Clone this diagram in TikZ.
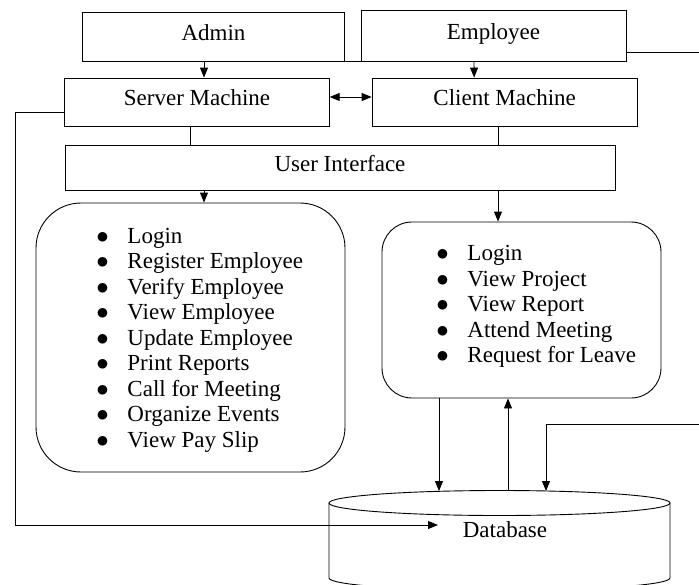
\documentclass[tikz,border=0pt]{standalone}
\usepackage{fontspec}
\setmainfont{Liberation Serif}
\usepackage{tikz}
\usetikzlibrary{
        arrows.meta,
        positioning,
        shapes
    }
\tikzset{>={Triangle[length=10pt,width=8pt]},node distance=2cm}
\tikzset{block/.style={draw,minimum height=48pt,text height=15pt,text depth=8pt,inner sep=0pt}}
\tikzset{panel/.style={draw,inner sep=0pt}}
\tikzset{tasks/.style={align=left,inner sep=0pt,anchor=west}}
\newcommand{\bul}[1]{\makebox[31pt][l]{$\bullet$}#1}

\begin{document}
\begin{tikzpicture}[x=1pt,y=-1pt,line width=0.9pt,font=\fontsize{23}{25.5}\selectfont]
                \useasboundingbox (0,0) rectangle (699,584);
                \node[block,minimum width=262pt,minimum height=49pt] (admin) at (213.5,36.5) {Admin};
                \node[block,minimum width=265pt,minimum height=51pt] (emp) at (493.5,35.5) {Employee};
                \node[block,minimum width=264.5pt] (server) at (197,102) {Server Machine};
                \node[block,minimum width=265pt] (client) [right=42pt of server] {Client Machine};
                \node[block,minimum width=550pt,minimum height=45pt] (ui) at (340,167.5) {User Interface};
                \node[panel,minimum width=309pt,minimum height=269pt,rounded corners=45pt] (admtask) at (190.5,337.5) {};
                \node[panel,minimum width=279pt,minimum height=176pt,rounded corners=30pt] (emptask) at (521.5,310) {};
                \node[tasks] (admlist) at (96,340) {\bul{Login}\\\bul{Register Employee}\\\bul{Verify Employee}\\\bul{View Employee}\\\bul{Update Employee}\\\bul{Print Reports}\\\bul{Call for Meeting}\\\bul{Organize Events}\\\bul{View Pay Slip}};
                \node[tasks] (emplist) at (436,306.5) {\bul{Login}\\\bul{View Project}\\\bul{View Report}\\\bul{Attend Meeting}\\\bul{Request for Leave}};
                % database drum
                \draw (499.5,503) ellipse [x radius=170.5pt, y radius=12.5pt];
                \draw (329,503) -- (329,578) arc[start angle=180, end angle=360, x radius=170.5pt, y radius=12.5pt] -- (670,503);
                \node (db) at (505,530) {Database};
                \coordinate (dbt1) at (439,491);
                \coordinate (dbt2) at (508,490.5);
                \coordinate (dbt3) at (546,491);
                \coordinate (dbin) at (438,525);
                \coordinate (east1) at (699,52);
                \coordinate (east2) at (699,424);
                \coordinate (westbend) at (15,112);
                \path[->]
                    ([xshift=-9.5]admin.south) edge ([xshift=7]server.north)
                    ([xshift=-19.5]emp.south) edge ([xshift=-30.5]client.north)
                    ([yshift=5]server.east) edge[<->] ([yshift=5]client.west)
                    ([xshift=-136]ui.south) edge ([xshift=13.5]admtask.north)
                    ([xshift=158]ui.south) edge ([xshift=-23.5]emptask.north)
                    ([xshift=-82.5]emptask.south) edge (dbt1)
                    (dbt2) edge ([xshift=-13.5]emptask.south);
                \path
                    ([xshift=-7]server.south) edge ([xshift=-150]ui.north)
                    ([xshift=-6.5]client.south) edge ([xshift=-6.5]client.south |- ui.north);
                \draw (admin.south east) -- ++(27,0);
                \draw ([yshift=-16.5]emp.east) -- (east1);
                \draw[->] (east2) -| (dbt3);
                \draw[->] ([yshift=-10]server.west) -- (westbend) |- (dbin);
\end{tikzpicture}
\end{document}
